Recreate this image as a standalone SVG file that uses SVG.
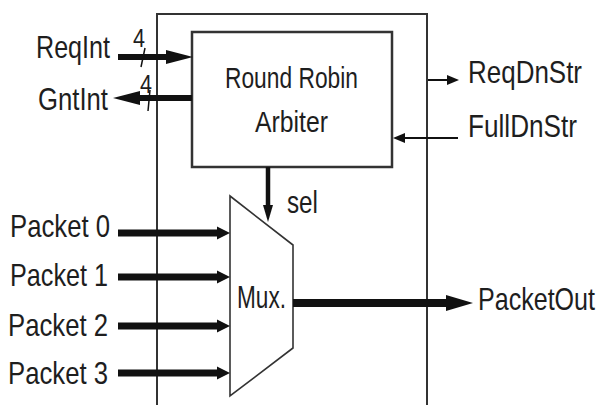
<svg xmlns="http://www.w3.org/2000/svg" width="600" height="405" viewBox="0 0 600 405">
<style>
text{font-family:"Liberation Sans",Arial,sans-serif;fill:#1e1e1e;}
.lbl{font-size:25px;}
.arb{font-family:"Liberation Sans",Arial,sans-serif;font-size:23px;}
.box{fill:#fff;stroke:#333;}
.bus{stroke:#111;fill:none;}
</style>
<defs>
<marker id="hPkt" markerUnits="userSpaceOnUse" markerWidth="13" markerHeight="14" refX="0" refY="7" orient="auto"><path d="M0,0.5 L13,7 L0,13.5 Z" fill="#111"/></marker>
<marker id="hReq" markerUnits="userSpaceOnUse" markerWidth="27" markerHeight="14" refX="0" refY="7" orient="auto"><path d="M0,0 L27,7 L0,14 Z" fill="#111"/></marker>
<marker id="hOut" markerUnits="userSpaceOnUse" markerWidth="27" markerHeight="17" refX="0" refY="8.5" orient="auto"><path d="M0,0.5 L27,8.5 L0,16.5 Z" fill="#111"/></marker>
<marker id="hSel" markerUnits="userSpaceOnUse" markerWidth="17" markerHeight="11" refX="0" refY="5.5" orient="auto"><path d="M0,0.5 L17,5.5 L0,10.5 Z" fill="#111"/></marker>
<marker id="hThin" markerUnits="userSpaceOnUse" markerWidth="12" markerHeight="11" refX="0" refY="5.5" orient="auto"><path d="M0,0.5 L12,5.5 L0,10.5 Z" fill="#111"/></marker>
</defs>
<rect width="600" height="405" fill="#fff"/>

<g id="outer-box">
<path d="M157,406 L157,14 L427,14 L427,406" fill="none" stroke="#333" stroke-width="2"/>
</g>

<g id="arbiter">
<rect class="box" x="192" y="32" width="200" height="135" stroke-width="2.5"/>
<text class="arb" transform="translate(225,88) scale(1,1.28)" textLength="133" lengthAdjust="spacingAndGlyphs">Round Robin</text>
<text class="arb" transform="translate(255,132) scale(1,1.28)" textLength="73" lengthAdjust="spacingAndGlyphs">Arbiter</text>
</g>

<g id="mux">
<polygon class="box" points="230,196 293,245 293,348 230,396" stroke-width="1.6"/>
<text class="lbl" transform="translate(237,308) scale(1,1.28)" textLength="49" lengthAdjust="spacingAndGlyphs">Mux.</text>
</g>

<g id="connectors">
<line class="bus" x1="118" y1="57" x2="166" y2="57" stroke-width="6" marker-end="url(#hReq)"/>
<line class="bus" x1="192" y1="98" x2="140" y2="98" stroke-width="6" marker-end="url(#hReq)"/>
<line class="bus" x1="145" y1="48" x2="141" y2="67" stroke-width="1.5"/>
<line class="bus" x1="150" y1="90" x2="148" y2="111" stroke-width="1.5"/>
<line class="bus" x1="428" y1="80" x2="447" y2="80" stroke-width="2" marker-end="url(#hThin)"/>
<line class="bus" x1="458" y1="138" x2="405" y2="138" stroke-width="2" marker-end="url(#hThin)"/>
<line class="bus" x1="268" y1="167" x2="268" y2="205" stroke-width="4.5" marker-end="url(#hSel)"/>
<line class="bus" x1="118" y1="233" x2="217" y2="233" stroke-width="7" marker-end="url(#hPkt)"/>
<line class="bus" x1="118" y1="277" x2="217" y2="277" stroke-width="7" marker-end="url(#hPkt)"/>
<line class="bus" x1="118" y1="326" x2="217" y2="326" stroke-width="7" marker-end="url(#hPkt)"/>
<line class="bus" x1="118" y1="373" x2="217" y2="373" stroke-width="7" marker-end="url(#hPkt)"/>
<line class="bus" x1="293" y1="303" x2="446" y2="303" stroke-width="8" marker-end="url(#hOut)"/>
</g>

<g id="labels">
<text class="lbl" transform="translate(36,58) scale(1,1.28)" textLength="74" lengthAdjust="spacingAndGlyphs">ReqInt</text>
<text class="lbl" transform="translate(38,110) scale(1,1.28)" textLength="70" lengthAdjust="spacingAndGlyphs">GntInt</text>
<text font-size="20" transform="translate(133,47) scale(1,1.28)" textLength="12" lengthAdjust="spacingAndGlyphs">4</text>
<text font-size="20" transform="translate(140,93) scale(1,1.28)" textLength="12" lengthAdjust="spacingAndGlyphs">4</text>
<text class="lbl" transform="translate(468,83) scale(1,1.28)" textLength="114" lengthAdjust="spacingAndGlyphs">ReqDnStr</text>
<text class="lbl" transform="translate(468,137) scale(1,1.28)" textLength="109" lengthAdjust="spacingAndGlyphs">FullDnStr</text>
<text class="lbl" transform="translate(287,213) scale(1,1.28)" textLength="31" lengthAdjust="spacingAndGlyphs">sel</text>
<text class="lbl" transform="translate(10,237) scale(1,1.28)" textLength="100" lengthAdjust="spacingAndGlyphs">Packet 0</text>
<text class="lbl" transform="translate(10,286) scale(1,1.28)" textLength="98" lengthAdjust="spacingAndGlyphs">Packet 1</text>
<text class="lbl" transform="translate(8,336) scale(1,1.28)" textLength="100" lengthAdjust="spacingAndGlyphs">Packet 2</text>
<text class="lbl" transform="translate(8,384) scale(1,1.28)" textLength="100" lengthAdjust="spacingAndGlyphs">Packet 3</text>
<text class="lbl" transform="translate(478,310) scale(1,1.28)" textLength="117" lengthAdjust="spacingAndGlyphs">PacketOut</text>
</g>
</svg>
